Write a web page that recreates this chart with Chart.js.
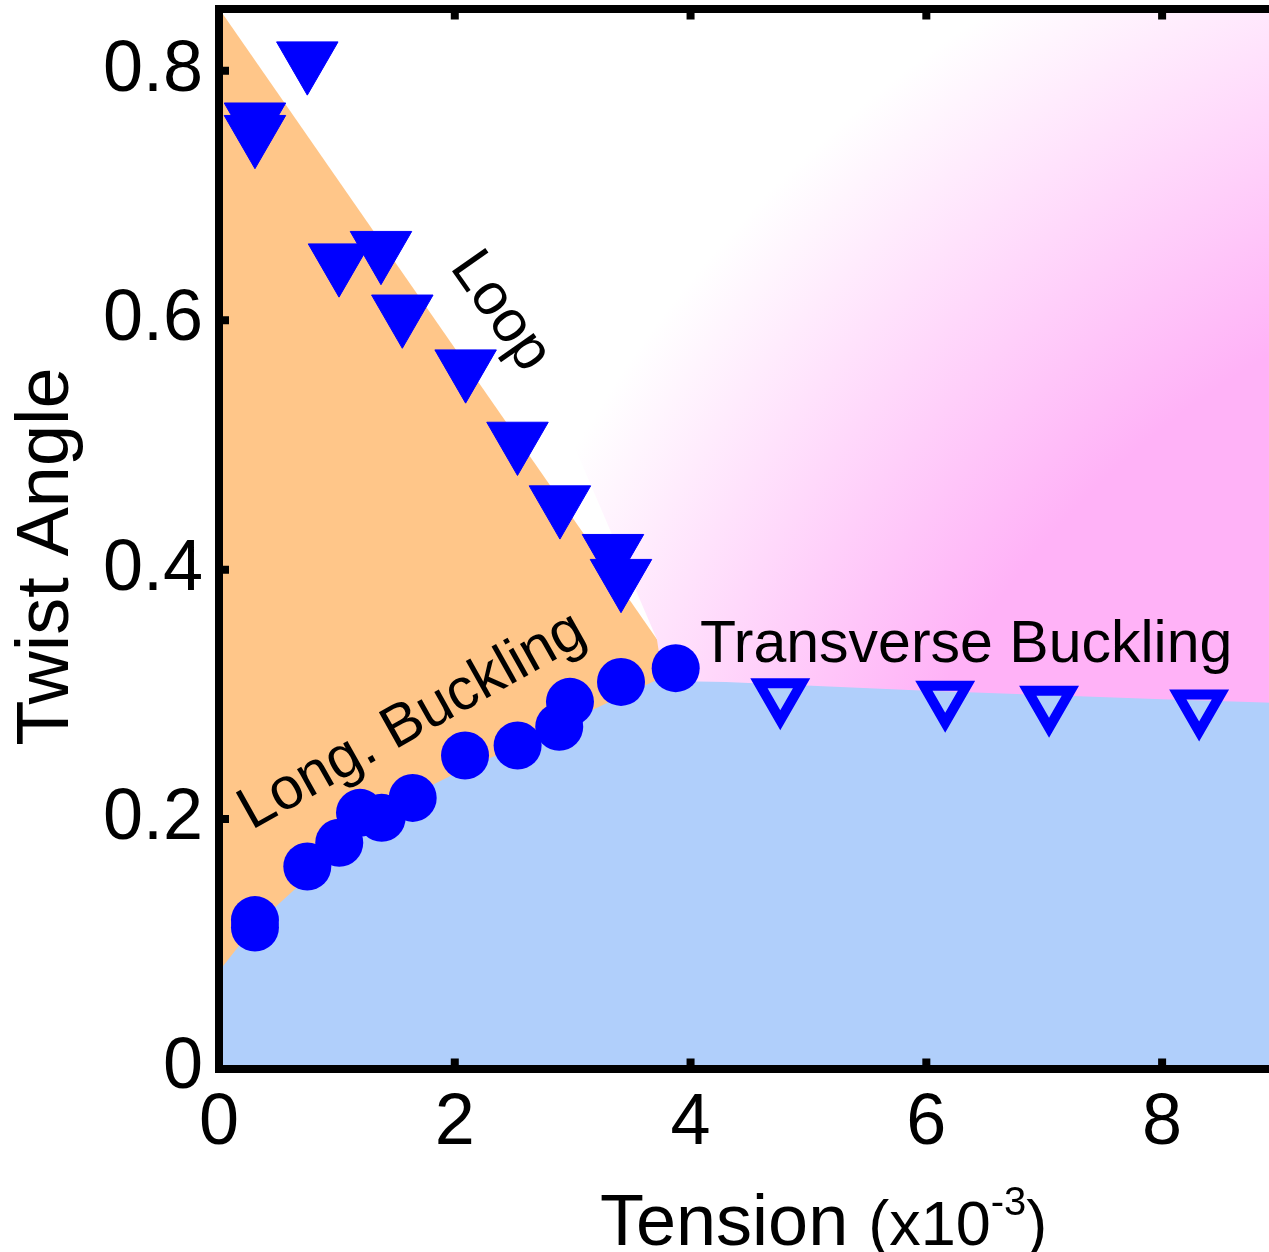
<!DOCTYPE html>
<html>
<head>
<meta charset="utf-8">
<script src="https://cdn.jsdelivr.net/npm/chart.js@4.4.0/dist/chart.umd.min.js"></script>
<style>
  html, body { margin: 0; padding: 0; background: #fff; overflow: hidden; }
  canvas { display: block; }
</style>
</head>
<body>
<canvas id="c" width="1280" height="1252"></canvas>
<script>
// phase diagram: twist angle vs tension (x10^-3)

const xTicks = [0, 2, 4, 6, 8];
const yTicks = [0, 0.2, 0.4, 0.6, 0.8];

// longitudinal buckling (filled circles)
const longX = [0.305, 0.305, 0.749, 1.020, 1.196, 1.380, 1.643, 2.087, 2.533, 2.886, 2.977, 3.410, 3.874];
const longY = [0.119, 0.113, 0.162, 0.181, 0.205, 0.201, 0.217, 0.251, 0.259, 0.274, 0.294, 0.310, 0.321];

// loop (filled down triangles)
const loopX = [0.749, 0.305, 0.305, 1.018, 1.374, 1.555, 2.092, 2.532, 2.892, 3.342, 3.410];
const loopY = [0.809, 0.760, 0.750, 0.647, 0.657, 0.606, 0.562, 0.504, 0.453, 0.414, 0.394];

// transverse buckling (open down triangles)
const transX = [4.761, 6.160, 7.041, 8.314];
const transY = [0.299, 0.297, 0.293, 0.290];

// region boundaries
const blueEdgeX = [0, 0.3, 0.75, 1.2, 1.65, 2.1, 2.55, 3.0, 3.4, 3.7, 4.3, 6, 8, 9];
const blueEdgeY = [0.078, 0.114, 0.153, 0.189, 0.220, 0.241, 0.259, 0.280, 0.298, 0.311, 0.310, 0.303, 0.296, 0.293];
const orangeEdgeX = [0, 3.9];
const orangeEdgeY = [0.85, 0.319];
const pinkEdgeX = [1.423, 3.036, 3.715, 3.8, 9];
const pinkEdgeY = [0.85, 0.494, 0.344, 0.29, 0.28];

const BLUE = "#0000FF";
const FONT = '"Liberation Sans", Arial, sans-serif';

// text labels inside the plot (anchor = baseline start, data units)
const notes = [
  { text: "Loop", x: 1.953, y: 0.6426, rot: 55 },
  { text: "Long. Buckling", x: 0.276, y: 0.191, rot: -29.3 },
  { text: "Transverse Buckling", x: 4.08, y: 0.326, rot: 0 }
];

// pink glow (radial, data units; radii in x units)
const glow = { cx: 12.56, cy: -0.025, r0: 7.29, r1: 11.03 };

function pts(xs, ys) { return xs.map((v, i) => ({ x: v, y: ys[i] })); }

function pinkFill(ctx) {
  const chart = ctx.chart;
  if (!chart.chartArea) return "#FFB2F7";
  const { x, y } = chart.scales;
  const cx = x.getPixelForValue(glow.cx), cy = y.getPixelForValue(glow.cy);
  const u = x.getPixelForValue(1) - x.getPixelForValue(0);
  const g = chart.ctx.createRadialGradient(cx, cy, glow.r0 * u, cx, cy, glow.r1 * u);
  g.addColorStop(0, "#FFB2F7");
  g.addColorStop(1, "#FFFFFF");
  return g;
}

// fixed box sizes, no label overhang padding
function fixBox(w, h) {
  return (s) => {
    if (w != null) s.width = w;
    if (h != null) s.height = h;
    s.paddingLeft = s.paddingRight = s.paddingTop = s.paddingBottom = 0;
  };
}

const decor = {
  id: "decor",
  afterDraw(chart) {
    const { ctx, chartArea: a, scales: { x, y } } = chart;
    ctx.save();
    // inward tick marks
    ctx.strokeStyle = "#000"; ctx.lineWidth = 8; ctx.lineCap = "butt";
    ctx.beginPath();
    xTicks.forEach((v) => {
      if (!v) return;
      const px = x.getPixelForValue(v);
      ctx.moveTo(px, a.bottom); ctx.lineTo(px, a.bottom - 10);
      ctx.moveTo(px, a.top); ctx.lineTo(px, a.top + 11);
    });
    yTicks.forEach((v) => {
      if (!v) return;
      const py = y.getPixelForValue(v);
      ctx.moveTo(a.left, py); ctx.lineTo(a.left + 10, py);
    });
    ctx.stroke();

    // in-plot labels
    ctx.fillStyle = "#000";
    ctx.font = "59px " + FONT;
    ctx.textAlign = "left"; ctx.textBaseline = "alphabetic";
    notes.forEach((n) => {
      ctx.save();
      ctx.translate(x.getPixelForValue(n.x), y.getPixelForValue(n.y));
      ctx.rotate(n.rot * Math.PI / 180);
      ctx.fillText(n.text, 0, 0);
      ctx.restore();
    });

    // y title
    ctx.save();
    ctx.font = "74px " + FONT;
    ctx.textAlign = "center";
    ctx.translate(a.left - 151, (a.top + a.bottom) / 2 + 18);
    ctx.rotate(-Math.PI / 2);
    ctx.fillText("Twist Angle", 0, 0);
    ctx.restore();

    // x title with superscript
    let tx = x.getPixelForValue(3.232);
    const ty = a.bottom + 176.5;
    ctx.font = "72px " + FONT;
    ctx.fillText("Tension", tx, ty);
    tx += ctx.measureText("Tension ").width;
    ctx.font = "63px " + FONT;
    ctx.fillText("(x10", tx, ty);
    tx += ctx.measureText("(x10").width;
    ctx.font = "40px " + FONT;
    ctx.fillText("-3", tx, ty - 30);
    tx += ctx.measureText("-3").width;
    ctx.font = "63px " + FONT;
    ctx.fillText(")", tx, ty);
    ctx.restore();
  }
};

const axisBorder = { display: true, width: 8, color: "#000", z: 1 };

new Chart(document.getElementById("c"), {
  type: "line",
  data: {
    datasets: [
      { label: "Long. Buckling", data: pts(longX, longY), showLine: false, pointStyle: "circle",
        pointRadius: 24, pointBackgroundColor: BLUE, pointBorderColor: BLUE, pointBorderWidth: 0, order: 0 },
      { label: "Loop", data: pts(loopX, loopY), showLine: false, pointStyle: "triangle", pointRotation: 180,
        pointRadius: 35.5, pointBackgroundColor: BLUE, pointBorderColor: BLUE, pointBorderWidth: 1, order: 0 },
      { label: "Transverse Buckling", data: pts(transX, transY), showLine: false, pointStyle: "triangle", pointRotation: 180,
        pointRadius: 24.6, pointBackgroundColor: "rgba(0,0,0,0)", pointBorderColor: BLUE, pointBorderWidth: 10, order: 0 },
      { label: "blue", data: pts(blueEdgeX, blueEdgeY), borderWidth: 0, borderColor: "transparent", pointRadius: 0,
        fill: "origin", backgroundColor: "#B0CFFB", order: 1 },
      { label: "pink", data: pts(pinkEdgeX, pinkEdgeY), borderWidth: 0, borderColor: "transparent", pointRadius: 0,
        fill: "end", backgroundColor: pinkFill, order: 2 },
      { label: "orange", data: pts(orangeEdgeX, orangeEdgeY), borderWidth: 0, borderColor: "transparent", pointRadius: 0,
        fill: "origin", backgroundColor: "#FFC689", order: 3 }
    ]
  },
  options: {
    responsive: false, animation: false, events: [],
    layout: { padding: 0, autoPadding: false },
    plugins: { legend: { display: false }, tooltip: { enabled: false } },
    scales: {
      x: {
        type: "linear", position: "bottom", min: 0, max: 9,
        afterBuildTicks: (s) => { s.ticks = xTicks.map((v) => ({ value: v })); },
        afterFit: fixBox(null, 183.5),
        grid: { display: false, drawTicks: false },
        border: axisBorder,
        ticks: { font: { size: 72, family: FONT }, color: "#000", padding: 12, maxRotation: 0, autoSkip: false,
                 callback: (v) => String(v) }
      },
      x2: {
        type: "linear", position: "top", min: 0, max: 9,
        afterFit: fixBox(null, 8.5),
        grid: { display: false, drawTicks: false },
        border: axisBorder,
        ticks: { display: false }
      },
      y: {
        type: "linear", position: "left", min: 0, max: 0.85,
        afterBuildTicks: (s) => { s.ticks = yTicks.map((v) => ({ value: v })); },
        afterFit: fixBox(219, null),
        grid: { display: false, drawTicks: false },
        border: axisBorder,
        ticks: { font: { size: 72, family: FONT }, color: "#000", padding: 16, autoSkip: false,
                 callback: (v) => String(v) }
      }
    }
  },
  plugins: [decor]
});
</script>
</body>
</html>
